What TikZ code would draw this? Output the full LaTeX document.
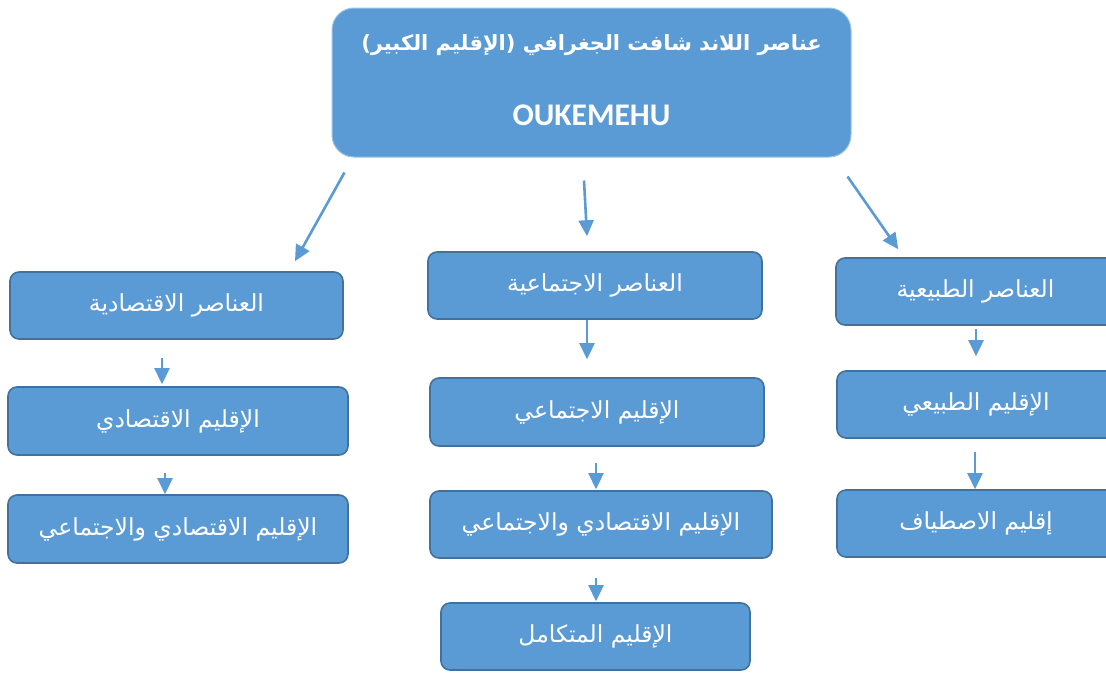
\documentclass[tikz,border=0pt]{standalone}
\usepackage{fontspec}
\usepackage{tikz}
\usetikzlibrary{positioning,arrows.meta,calc}
\TeXXeTstate=1
\newfontfamily\arabicfont[Script=Arabic]{DejaVu Sans}
\newfontfamily\latinfont{Carlito}
\newcommand{\artext}[1]{\beginR #1\endR}
\definecolor{boxblue}{RGB}{91,155,213}
\definecolor{edgeblue}{RGB}{65,113,156}

\begin{document}
\begin{tikzpicture}[
  x=1pt, y=-1pt,
  every node/.style={text=white},
  head/.style={draw=boxblue!60!white, line width=1pt, rounded corners=22pt, fill=boxblue, minimum width=519pt, minimum height=149pt, inner sep=0pt},
  blk/.style={draw=edgeblue, line width=1.6pt, rounded corners=9pt, fill=boxblue, minimum height=67pt, inner sep=0pt, align=center, font=\arabicfont\fontsize{23.5}{28}\selectfont},
  flow/.style={-{Triangle[length=16pt, width=15pt]}, line width=2.6pt, draw=boxblue}
]
\useasboundingbox (0,0) rectangle (1106,673);
% Title
\node[head] (top) at (591.5, 82.5) {};
\node[font=\arabicfont\bfseries\fontsize{21}{25}\selectfont] (ttl) at (591.5, 45) {\artext{عناصر اللاند شافت الجغرافي (الإقليم الكبير)}};
\node[font=\latinfont\bfseries\fontsize{31.5}{36}\selectfont] (sub) at (591.5, 115) {OUKEMEHU};
% Economic column
\node[blk, minimum width=333pt] (eco1) at (176.5, 305.5) {\artext{العناصر الاقتصادية}};
\node[blk, minimum width=340pt, minimum height=68pt] (eco2) at (178, 421) {\artext{الإقليم الاقتصادي}};
\node[blk, minimum width=340pt, minimum height=68pt] (eco3) at (178, 529) {\artext{الإقليم الاقتصادي والاجتماعي}};
% Social column
\node[blk, minimum width=334pt] (soc1) at (595, 285.5) {\artext{العناصر الاجتماعية}};
\node[blk, minimum width=334pt, minimum height=68pt] (soc2) at (597, 412) {\artext{الإقليم الاجتماعي}};
\node[blk, minimum width=342pt] (soc3) at (601, 524.5) {\artext{الإقليم الاقتصادي والاجتماعي}};
\node[blk, minimum width=309pt] (soc4) at (595.5, 636.5) {\artext{الإقليم المتكامل}};
% Natural column
\node[blk, minimum width=279pt] (nat1) at (975.5, 291.5) {\artext{العناصر الطبيعية}};
\node[blk, minimum width=278pt] (nat2) at (976, 404.5) {\artext{الإقليم الطبيعي}};
\node[blk, minimum width=278pt] (nat3) at (976, 523.5) {\artext{إقليم الاصطياف}};
% From the title
\draw[flow] ([xshift=13pt, yshift=-15pt]top.south west) -- ([xshift=118.5pt, yshift=10pt]eco1.north);
\draw[flow] ([xshift=-7.5pt, yshift=-23pt]top.south) -- ([xshift=-8pt, yshift=15pt]soc1.north);
\draw[flow] ([xshift=-4pt, yshift=-19pt]top.south east) -- ([xshift=63pt, yshift=8pt]nat1.north west);
% Down the columns
\draw[flow, shorten <=18pt, shorten >=2pt] ([xshift=-14.5pt]eco1.south) -- ([xshift=-14.5pt]eco1.south |- eco2.north);
\draw[flow, shorten <=17pt] ([xshift=-13pt]eco2.south) -- ([xshift=-13pt]eco2.south |- eco3.north);
\draw[flow, shorten >=18pt] ([xshift=-8pt]soc1.south) -- ([xshift=-8pt]soc1.south |- soc2.north);
\draw[flow, shorten <=16pt, shorten >=1pt] ([xshift=-1pt]soc2.south) -- ([xshift=-1pt]soc2.south |- soc3.north);
\draw[flow, shorten <=19pt, shorten >=1pt] ([xshift=-5pt]soc3.south) -- ([xshift=-5pt]soc3.south |- soc4.north);
\draw[flow, shorten <=3pt, shorten >=14pt] ([xshift=0.5pt]nat1.south) -- ([xshift=0.5pt]nat1.south |- nat2.north);
\draw[flow, shorten <=13pt] ([xshift=-1pt]nat2.south) -- ([xshift=-1pt]nat2.south |- nat3.north);
\end{tikzpicture}
\end{document}
